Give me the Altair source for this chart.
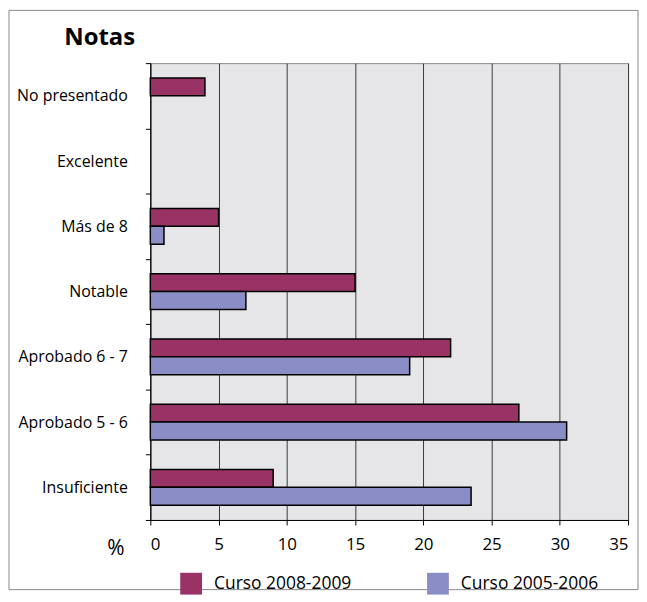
import altair as alt
import pandas as pd

categorias = ["No presentado", "Excelente", "Más de 8", "Notable",
              "Aprobado 6 - 7", "Aprobado 5 - 6", "Insuficiente"]
curso_2008 = [4, 0, 5, 15, 22, 27, 9]
curso_2005 = [0, 0, 1, 7, 19, 30.5, 23.5]
series = ["Curso 2008-2009", "Curso 2005-2006"]
colores = ["#993366", "#8B8EC6"]
ticks_x = [0, 5, 10, 15, 20, 25, 30, 35]

rows = []
for c, a, b in zip(categorias, curso_2008, curso_2005):
    rows.append({"Nota": c, "Serie": series[0], "Valor": a})
    rows.append({"Nota": c, "Serie": series[1], "Valor": b})
df = pd.DataFrame(rows)

FONT = "Open Sans"

border = alt.Chart(pd.DataFrame({"b": [0]})).mark_rect(
    fill="white", fillOpacity=0, stroke="#8a8a8a", strokeWidth=1
).encode(
    x=alt.value(-142), x2=alt.value(490), y=alt.value(-53), y2=alt.value(529)
)

bars = alt.Chart(df).transform_filter("datum.Valor > 0").mark_bar(
    stroke="black", strokeWidth=1.5
).encode(
    y=alt.Y("Nota:N", sort=categorias,
            scale=alt.Scale(domain=categorias, paddingInner=0, paddingOuter=0),
            axis=alt.Axis(title="Notas", titleAngle=0, titleX=-87, titleY=-26,
                          titleAlign="left", titleBaseline="middle",
                          titleFontSize=24, titleFontWeight="bold", titleFont=FONT,
                          titleColor="black",
                          tickBand="extent", tickSize=5, labelPadding=18,
                          labelFontSize=16, labelFont=FONT, labelColor="black",
                          domainColor="black", tickColor="black", grid=False)),
    yOffset=alt.YOffset("Serie:N", sort=series,
                        scale=alt.Scale(domain=series, paddingInner=0, paddingOuter=0.825)),
    x=alt.X("Valor:Q", scale=alt.Scale(domain=[0, 35], nice=False),
            axis=alt.Axis(values=ticks_x, title="%", titleX=-35, titleY=29,
                          titleAlign="center", titleBaseline="middle",
                          titleFontSize=21, titleFontWeight="normal", titleFont=FONT,
                          titleColor="black",
                          tickSize=5, labelPadding=12, labelFontSize=17, labelFont=FONT,
                          labelColor="black", domainColor="black", tickColor="black",
                          grid=True, gridColor="#3a3a3a", gridWidth=1)),
    color=alt.Color("Serie:N", sort=series,
                    scale=alt.Scale(domain=series, range=colores),
                    legend=alt.Legend(title=None, orient="none", legendX=30, legendY=512,
                                      direction="horizontal", symbolType="square",
                                      symbolSize=480, symbolStrokeWidth=0,
                                      labelFontSize=17.5, labelFont=FONT, labelColor="black",
                                      labelOffset=12, columnPadding=75))
)

chart = alt.layer(border, bars).properties(
    width=480, height=459, padding=0, background="white"
).configure_view(fill="#E6E6E8", stroke="#8a8a8a")

chart.save("out.html", embed_options={"renderer": "svg", "actions": False})
